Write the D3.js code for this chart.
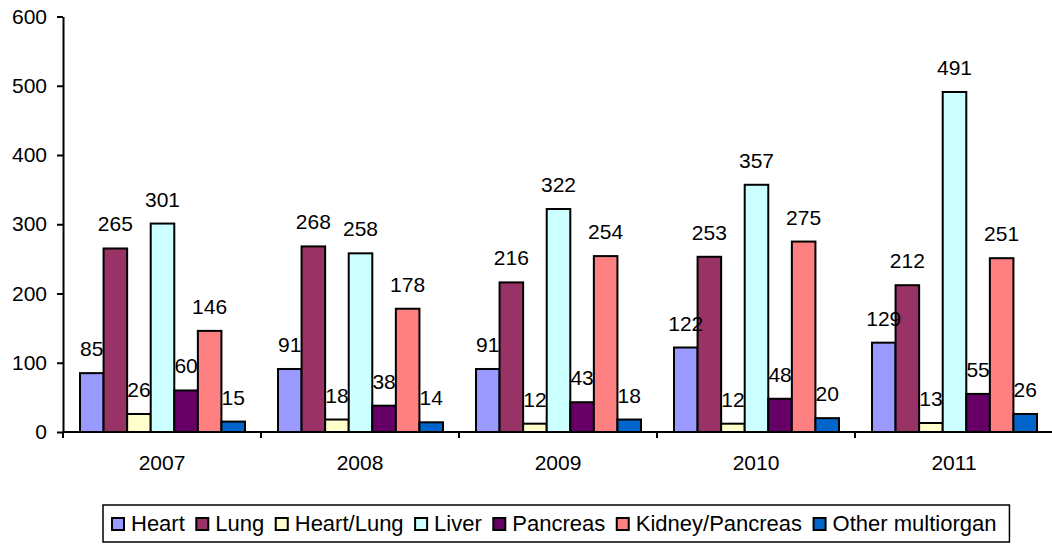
<!DOCTYPE html>
<html>
<head>
<meta charset="utf-8">
<script src="https://cdn.jsdelivr.net/npm/d3@7"></script>
<style>
  body { margin: 0; background: #fff; }
  svg { display: block; font-family: Arial, "Liberation Sans", sans-serif; }
</style>
</head>
<body>
<script>
const years = ['2007', '2008', '2009', '2010', '2011'];
const organs = ['Heart', 'Lung', 'Heart/Lung', 'Liver', 'Pancreas', 'Kidney/Pancreas', 'Other multiorgan'];
const colors = ['#9999FF', '#993366', '#FFFFCC', '#CCFFFF', '#660066', '#FF8080', '#0066CC'];

// one array per organ, values for 2007..2011
const heart = [85, 91, 91, 122, 129];
const lung = [265, 268, 216, 253, 212];
const heartLung = [26, 18, 12, 12, 13];
const liver = [301, 258, 322, 357, 491];
const pancreas = [60, 38, 43, 48, 55];
const kidneyPancreas = [146, 178, 254, 275, 251];
const other = [15, 14, 18, 20, 26];

const yTicks = [0, 100, 200, 300, 400, 500, 600];

const series = [heart, lung, heartLung, liver, pancreas, kidneyPancreas, other];

const width = 1052, height = 544;
const plotLeft = 63, plotRight = 1053, plotTop = 16.5, plotBottom = 432;

const svg = d3.select('body').append('svg')
  .attr('width', width)
  .attr('height', height);

const x = d3.scaleBand().domain(years).range([plotLeft, plotRight]);
const xInner = d3.scaleBand().domain(organs).range([17, x.bandwidth() - 16]);
const y = d3.scaleLinear().domain([0, 600]).range([plotBottom, plotTop]);
const color = d3.scaleOrdinal().domain(organs).range(colors);

const rows = [];
years.forEach(function(yr, i) {
  organs.forEach(function(o, j) {
    rows.push({ year: yr, organ: o, value: series[j][i] });
  });
});

// bars
svg.append('g')
  .selectAll('rect')
  .data(rows)
  .join('rect')
  .attr('x', d => x(d.year) + xInner(d.organ))
  .attr('y', d => y(d.value))
  .attr('width', xInner.bandwidth())
  .attr('height', d => y(0) - y(d.value))
  .attr('fill', d => color(d.organ))
  .attr('stroke', '#000')
  .attr('stroke-width', 2);

// value labels
svg.append('g')
  .selectAll('text')
  .data(rows)
  .join('text')
  .attr('x', d => x(d.year) + xInner(d.organ) + xInner.bandwidth() / 2)
  .attr('y', d => y(d.value) - 17)
  .attr('text-anchor', 'middle')
  .style('font-size', '21px')
  .text(d => d.value);

// y axis
const yAxis = svg.append('g')
  .attr('transform', `translate(${plotLeft},0)`)
  .call(d3.axisLeft(y).tickValues(yTicks).tickSize(6).tickPadding(10).tickSizeOuter(0));
yAxis.select('.domain').attr('stroke-width', 2);
yAxis.selectAll('.tick line').attr('stroke-width', 2);
yAxis.selectAll('.tick text').style('font-size', '21px').attr('fill', '#000');
yAxis.attr('font-family', null).attr('font-size', null);

// x axis
svg.append('line')
  .attr('x1', plotLeft).attr('x2', plotRight)
  .attr('y1', plotBottom).attr('y2', plotBottom)
  .attr('stroke', '#000').attr('stroke-width', 2);

const bounds = years.map(d => x(d)).concat([x(years[years.length - 1]) + x.bandwidth()]);
svg.append('g')
  .selectAll('line')
  .data(bounds)
  .join('line')
  .attr('x1', d => d).attr('x2', d => d)
  .attr('y1', plotBottom).attr('y2', plotBottom + 6)
  .attr('stroke', '#000').attr('stroke-width', 2);

svg.append('g')
  .selectAll('text')
  .data(years)
  .join('text')
  .attr('x', d => x(d) + x.bandwidth() / 2)
  .attr('y', 470)
  .attr('text-anchor', 'middle')
  .style('font-size', '21px')
  .text(d => d);

// legend
const legend = svg.append('g');
const legBox = legend.append('rect')
  .attr('fill', '#fff')
  .attr('stroke', '#000')
  .attr('stroke-width', 1.5);

const items = legend.selectAll('g.item')
  .data(organs)
  .join('g')
  .attr('class', 'item');

items.append('rect')
  .attr('x', 0).attr('y', -13)
  .attr('width', 12).attr('height', 12)
  .attr('fill', d => color(d))
  .attr('stroke', '#000')
  .attr('stroke-width', 2);

items.append('text')
  .attr('x', 19)
  .attr('y', 0)
  .style('font-size', '22px')
  .text(d => d);

let pos = 0;
const gap = 11.5;
const offsets = [];
items.each(function() {
  const w = d3.select(this).select('text').node().getComputedTextLength();
  offsets.push(pos);
  pos += 19 + w + gap;
});
const legW = pos - gap;
const legX = 112;
items.attr('transform', (d, i) => `translate(${legX + offsets[i]},531)`);
legBox
  .attr('x', legX - 9)
  .attr('y', 505)
  .attr('width', legW + 22)
  .attr('height', 37);
</script>
</body>
</html>
